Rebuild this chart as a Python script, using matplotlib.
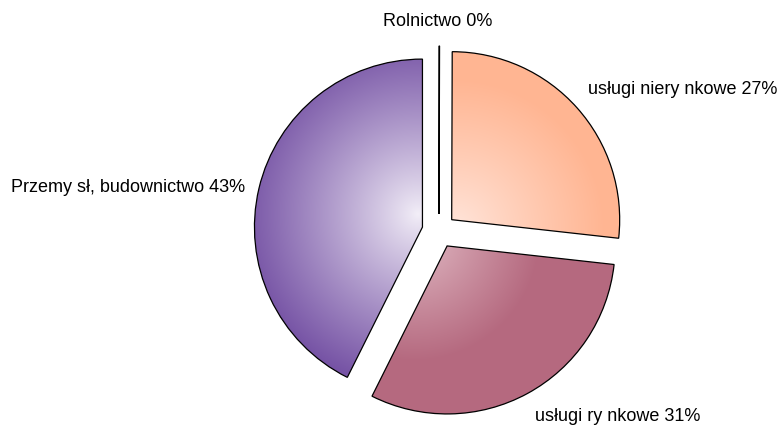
import numpy as np
import matplotlib
matplotlib.use("Agg")
import matplotlib.pyplot as plt
from matplotlib.colors import to_rgb

# Data
categories = ["Rolnictwo", "usługi nierynkowe", "usługi rynkowe", "Przemysł, budownictwo"]
values = [0.05, 26.7, 30.6, 42.6]
labels = ["Rolnictwo 0%", "usługi niery nkowe 27%", "usługi ry nkowe 31%", "Przemy sł, budownictwo 43%"]

# Styles
light_cols = ["#f4f0f7", "#ffe6dc", "#e2bcc6", "#f3eff8"]
dark_cols = ["#7a55a8", "#ffb592", "#b5697f", "#7653a5"]
focus = [(438, 215), (455, 197), (415, 190), (418, 212)]
grad_r = [170, 150, 125, 175]

W, H = 779, 427
fig = plt.figure(figsize=(W / 100, H / 100), dpi=100)
ax = fig.add_axes([0, 0, 1, 1])

wedges, _ = ax.pie(values, center=(439, 195), radius=168, explode=[17] * len(values),
                   startangle=90, counterclock=False, frame=True,
                   wedgeprops=dict(facecolor="none", edgecolor="black", linewidth=0.9, zorder=3))
ax.set_xlim(0, W)
ax.set_ylim(0, H)
ax.set_aspect("equal")
ax.axis("off")

xs = np.arange(W) + 0.5
ys = np.arange(H) + 0.5
X, Y = np.meshgrid(xs, ys)
for w, lc, dc, f, R in zip(wedges, light_cols, dark_cols, focus, grad_r):
    d = np.hypot(X - f[0], Y - f[1])
    t = np.clip(d / R, 0, 1) ** 0.9
    lc_ = np.array(to_rgb(lc)); dc_ = np.array(to_rgb(dc))
    img = lc_[None, None, :] * (1 - t[..., None]) + dc_[None, None, :] * t[..., None]
    im = ax.imshow(img, extent=(0, W, 0, H), origin="lower", zorder=2, interpolation="bilinear")
    im.set_clip_path(w)

font = dict(family=["Liberation Sans", "DejaVu Sans"], fontsize=13, color="black")
ax.text(438, 406, labels[0], ha="center", va="center", **font)
ax.text(588, 337, labels[1], ha="left", va="center", **font)
ax.text(535, 10, labels[2], ha="left", va="center", **font)
ax.text(245, 239, labels[3], ha="right", va="center", **font)

fig.savefig("out.png", dpi=100)
